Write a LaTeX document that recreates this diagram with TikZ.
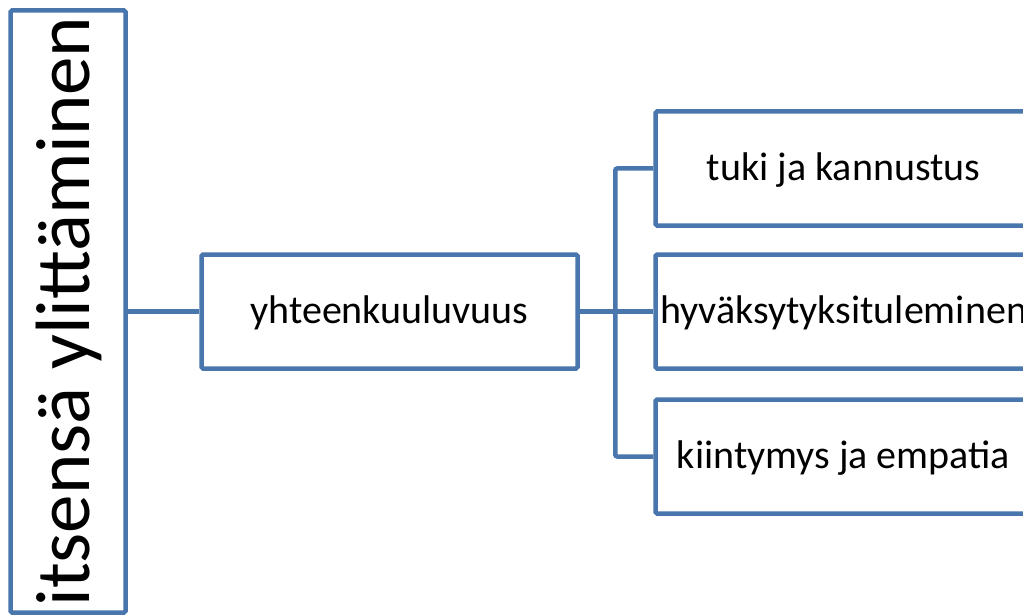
\documentclass[tikz,border=0pt]{standalone}
\usepackage{fontspec}
\setmainfont{Carlito}
\definecolor{boxblue}{RGB}{74,118,174}
\begin{document}
\begin{tikzpicture}[x=1pt,y=-1pt,
  box/.style={draw=boxblue, line width=4.5pt, rounded corners=1.5pt,
    minimum width=376pt, minimum height=114pt, inner sep=0pt,
    font=\fontsize{40}{48}\selectfont, text height=23pt, text depth=0pt},
  tallbox/.style={draw=boxblue, line width=4.5pt, rounded corners=1.5pt,
    rotate=90, minimum width=602pt, minimum height=115pt, inner sep=0pt,
    font=\fontsize{77}{90}\selectfont, text height=42pt, text depth=0pt},
  conn/.style={draw=boxblue, line width=4.5pt, rounded corners=2pt}]
\useasboundingbox (0,0) rectangle (1023,615);
\begin{scope}
\clip (0,0) rectangle (1023,615);
\node[tallbox] (L) at (68,311.5) {itsensä ylittäminen};
\node[box] (Y) at (389.5,311.5) {yhteenkuuluvuus};
\node[box] (T) at (843.5,168.5) {tuki ja kannustus};
\node[box] (H) at (843.5,311.5) {hyväksytyksituleminen};
\node[box] (K) at (843.5,456.5) {kiintymys ja empatia};
\draw[conn] (L.south) -- (Y.west);
\draw[conn] (Y.east) -- (H.west);
\draw[conn] (T.west) -- ++(-38,0) |- (K.west);
\end{scope}
\end{tikzpicture}
\end{document}
